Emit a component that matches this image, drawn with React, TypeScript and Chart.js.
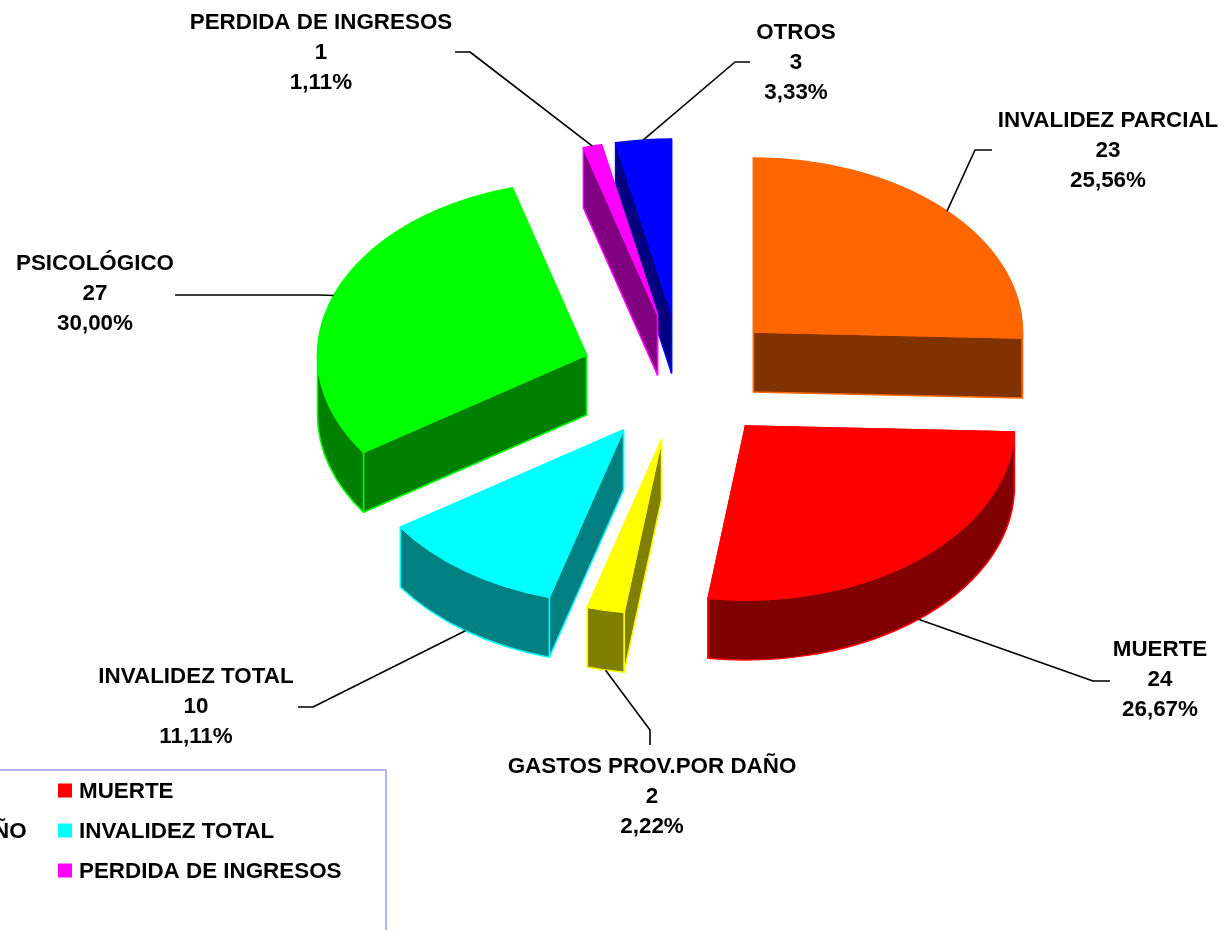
import React, { useEffect, useRef } from "react";
import { Chart, registerables } from "chart.js";

Chart.register(...registerables);

// ---- data ----
const categories = [
  "INVALIDEZ PARCIAL",
  "MUERTE",
  "GASTOS PROV.POR DAÑO",
  "INVALIDEZ TOTAL",
  "PSICOLÓGICO",
  "PERDIDA DE INGRESOS",
  "OTROS",
];
const counts = [23, 24, 2, 10, 27, 1, 3];
const percents = ["25,56%", "26,67%", "2,22%", "11,11%", "30,00%", "1,11%", "3,33%"];

// ---- styles ----
const colors = ["#FF6600", "#FF0000", "#FFFF00", "#00FFFF", "#00FF00", "#FF00FF", "#0000FF"];
const sideColors = ["#803300", "#800000", "#808000", "#008080", "#008000", "#800080", "#000080"];

// ---- 3D layout ----
const RADIUS = 269;
const CENTER = { x: 662.5, y: 375 };
const TILT = 174 / 269;
const DEPTH = 60;
const explode = [
  [91, -43],
  [83, 51],
  [-1, 65],
  [-39, 55],
  [-76, -20],
  [-5, -60],
  [9, -62],
];
// label centre x, middle-line y, then leader's outer end and elbow
const labelLayout = [
  { x: 1108, y: 151, end: [992, 150], elbow: [975, 150] },
  { x: 1160, y: 680, end: [1110, 681], elbow: [1093, 681] },
  { x: 652, y: 797, end: [650, 745], elbow: [650, 730] },
  { x: 196, y: 707, end: [298, 707], elbow: [313, 707] },
  { x: 95, y: 294, end: [175, 295], elbow: [320, 295] },
  { x: 321, y: 53, end: [455, 52], elbow: [470, 52] },
  { x: 796, y: 63, end: [750, 62], elbow: [735, 62] },
];
const FONT = 'bold 22.4px "Liberation Sans", Arial, sans-serif';
// legend: column-wise [marker x, row y]
const legendSlots = [
  [-283, 791],
  [58, 791],
  [-283, 831],
  [58, 831],
  [-283, 871],
  [58, 871],
  [-283, 911],
];

const pie3d = {
  id: "pie3d",
  beforeDatasetsDraw(chart: any) {
    const ctx: CanvasRenderingContext2D = chart.ctx;
    const arcs = chart.getDatasetMeta(0).data;
    const pt = (ax: number, ay: number, a: number, z = 0) => [
      ax + RADIUS * Math.cos(a),
      ay + RADIUS * Math.sin(a) * TILT + z,
    ];
    ctx.save();
    ctx.lineJoin = "round";
    // back slices first, so the front ones overlap them
    for (let i = arcs.length - 1; i >= 0; i--) {
      const arc = arcs[i];
      const ax = arc.x + explode[i][0];
      const ay = arc.y + explode[i][1];
      const s = arc.startAngle;
      const e = arc.endAngle;
      ctx.lineWidth = 1.5;
      ctx.strokeStyle = colors[i];
      ctx.fillStyle = sideColors[i];
      // radial walls: the one reaching lower on the page is in front
      const walls = Math.sin(s) < Math.sin(e) ? [s, e] : [e, s];
      for (const a of walls) {
        const [px, py] = pt(ax, ay, a);
        ctx.beginPath();
        ctx.moveTo(ax, ay);
        ctx.lineTo(px, py);
        ctx.lineTo(px, py + DEPTH);
        ctx.lineTo(ax, ay + DEPTH);
        ctx.closePath();
        ctx.fill();
        ctx.stroke();
      }
      // outer wall: only the part facing the viewer (canvas angles 0..PI)
      const from = Math.max(s, 0);
      const to = Math.min(e, Math.PI);
      if (to > from) {
        ctx.beginPath();
        ctx.ellipse(ax, ay, RADIUS, RADIUS * TILT, 0, from, to, false);
        ctx.ellipse(ax, ay + DEPTH, RADIUS, RADIUS * TILT, 0, to, from, true);
        ctx.closePath();
        ctx.fill();
        ctx.stroke();
      }
      // top face
      ctx.fillStyle = colors[i];
      ctx.beginPath();
      ctx.moveTo(ax, ay);
      ctx.ellipse(ax, ay, RADIUS, RADIUS * TILT, 0, s, e, false);
      ctx.closePath();
      ctx.fill();
      ctx.stroke();
    }

    // leaders and labels
    ctx.strokeStyle = "#000000";
    ctx.lineWidth = 1.6;
    arcs.forEach((arc: any, i: number) => {
      const ax = arc.x + explode[i][0];
      const ay = arc.y + explode[i][1];
      const mid = (arc.startAngle + arc.endAngle) / 2;
      const inFront = Math.sin(mid) > 0;
      const [tx, ty] = pt(ax, ay, mid, inFront ? DEPTH : 0);
      const l = labelLayout[i];
      ctx.beginPath();
      ctx.moveTo(l.end[0], l.end[1]);
      ctx.lineTo(l.elbow[0], l.elbow[1]);
      ctx.lineTo(tx, ty);
      ctx.stroke();
    });
    ctx.fillStyle = "#000000";
    ctx.font = FONT;
    ctx.textAlign = "center";
    ctx.textBaseline = "middle";
    categories.forEach((name, i) => {
      const l = labelLayout[i];
      ctx.fillText(name, l.x, l.y - 30);
      ctx.fillText(String(counts[i]), l.x, l.y);
      ctx.fillText(percents[i], l.x, l.y + 30);
    });

    // legend
    ctx.strokeStyle = "#9999FF";
    ctx.lineWidth = 1.5;
    ctx.strokeRect(-340, 770, 726, 300);
    ctx.textAlign = "left";
    categories.forEach((name, i) => {
      const [mx, my] = legendSlots[i];
      ctx.fillStyle = colors[i];
      ctx.fillRect(mx, my - 7.5, 14, 14);
      ctx.fillStyle = "#000000";
      ctx.fillText(name, mx + 21, my + 1);
    });
    ctx.restore();
    return false;
  },
};

export default function App() {
  const ref = useRef<HTMLCanvasElement | null>(null);
  useEffect(() => {
    const chart = new Chart(ref.current as HTMLCanvasElement, {
      type: "pie",
      data: {
        labels: categories,
        datasets: [{ data: counts, backgroundColor: colors, borderWidth: 0 }],
      },
      options: {
        animation: false,
        responsive: false,
        radius: RADIUS,
        layout: {
          padding: {
            left: CENTER.x - RADIUS,
            right: 1226 - CENTER.x - RADIUS,
            top: CENTER.y - RADIUS,
            bottom: 930 - CENTER.y - RADIUS,
          },
        },
        plugins: { legend: { display: false }, tooltip: { enabled: false } },
      } as any,
      plugins: [pie3d as any],
    });
    return () => chart.destroy();
  }, []);
  return (
    <div style={{ position: "fixed", left: 0, top: 0, width: 1226, height: 930, background: "#fff", overflow: "hidden" }}>
      <canvas ref={ref} width={1226} height={930} style={{ display: "block" }} />
    </div>
  );
}
